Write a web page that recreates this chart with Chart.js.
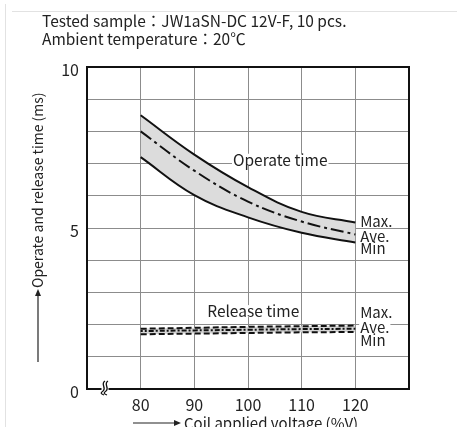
<!DOCTYPE html>
<html>
<head>
<meta charset="utf-8">
<script src="https://cdn.jsdelivr.net/npm/chart.js@4/dist/chart.umd.min.js"></script>
<style>
  body { margin: 0; background: #fff; }
  canvas { display: block; }
</style>
</head>
<body>
<canvas id="chart" width="457" height="427"></canvas>
<script>
// Coil voltage (%V) vs operate / release time (ms)
const voltages = [80, 90, 100, 110, 120];
const operateMax = [8.5, 7.28, 6.27, 5.5, 5.17];
const operateAve = [8.0, 6.78, 5.82, 5.2, 4.8];
const operateMin = [7.2, 6.02, 5.33, 4.85, 4.55];
const releaseMax = [1.87, 1.9, 1.93, 1.95, 1.97];
const releaseAve = [1.8, 1.82, 1.84, 1.86, 1.87];
const releaseMin = [1.7, 1.72, 1.74, 1.76, 1.77];
const xTicks = [80, 90, 100, 110, 120];
const yTicks = [0, 5, 10];

const headerLines = ['Tested sample\uFF1AJW1aSN-DC 12V-F, 10 pcs.', 'Ambient temperature\uFF1A20\u2103'];
const FONT = "'Noto Sans CJK JP', 'Noto Sans', sans-serif";
const INK = '#222';

Chart.defaults.font.family = FONT;
Chart.defaults.color = INK;

function pts(values) {
    return voltages.map((v, i) => ({ x: v, y: values[i] }));
}

// Text labels placed in data units
const notes = [
    { text: 'Operate time', x: 97.2, y: 7.12, size: 15.5 },
    { text: 'Release time', x: 92.4, y: 2.42, size: 15.5 },
    { text: 'Max.', x: 120.9, y: 5.22, size: 15 },
    { text: 'Ave.', x: 120.9, y: 4.74, size: 15 },
    { text: 'Min', x: 120.9, y: 4.36, size: 15 },
    { text: 'Max.', x: 120.9, y: 2.39, size: 15 },
    { text: 'Ave.', x: 120.9, y: 1.93, size: 15 },
    { text: 'Min', x: 120.9, y: 1.52, size: 15 }
];

const decorPlugin = {
    id: 'decor',
    beforeDraw(chart) {
        const ctx = chart.ctx;
        ctx.save();
        ctx.fillStyle = '#fff';
        ctx.fillRect(0, 0, chart.width, chart.height);
        // page frame lines
        ctx.strokeStyle = '#e2e2e2';
        ctx.lineWidth = 1;
        ctx.beginPath();
        ctx.moveTo(12, 11.5); ctx.lineTo(chart.width, 11.5);
        ctx.moveTo(5.5, 4); ctx.lineTo(5.5, chart.height);
        ctx.stroke();
        // header
        ctx.fillStyle = INK;
        ctx.font = '15.5px ' + FONT;
        ctx.textBaseline = 'alphabetic';
        ctx.fillText(headerLines[0], 42, 27);
        ctx.fillText(headerLines[1], 42, 45);
        ctx.restore();
    },
    beforeDatasetsDraw(chart) {
        const ctx = chart.ctx;
        const xs = chart.scales.x, ys = chart.scales.y;
        ctx.save();
        ctx.textBaseline = 'middle';
        notes.forEach(n => {
            ctx.font = n.size + 'px ' + FONT;
            const px = xs.getPixelForValue(n.x);
            const py = ys.getPixelForValue(n.y);
            const w = ctx.measureText(n.text).width;
            ctx.fillStyle = '#fff';
            ctx.fillRect(px - 1, py - 6, w + 2, 12);
            ctx.fillStyle = INK;
            ctx.fillText(n.text, px, py);
        });
        ctx.restore();
    },
    afterDraw(chart) {
        const ctx = chart.ctx;
        const a = chart.chartArea;
        ctx.save();
        // plot frame
        ctx.strokeStyle = '#111';
        ctx.lineWidth = 2;
        ctx.strokeRect(a.left, a.top, a.right - a.left, a.bottom - a.top);

        // axis break on x axis
        const bx = 104.5, by = a.bottom;
        ctx.fillStyle = '#fff';
        ctx.fillRect(bx - 3, by - 3, 7, 6);
        ctx.lineWidth = 1.3;
        ctx.strokeStyle = '#111';
        [-1.5, 1.5].forEach(off => {
            ctx.beginPath();
            ctx.moveTo(bx + off + 2, by - 8);
            ctx.bezierCurveTo(bx + off - 3, by - 5, bx + off + 4, by - 1, bx + off, by + 2);
            ctx.bezierCurveTo(bx + off - 3, by + 4, bx + off - 2, by + 5, bx + off + 1, by + 6);
            ctx.stroke();
        });

        ctx.fillStyle = INK;
        ctx.strokeStyle = INK;
        ctx.lineWidth = 1.2;
        // y title with upward arrow
        ctx.save();
        ctx.translate(38, 288);
        ctx.rotate(-Math.PI / 2);
        ctx.font = '14px ' + FONT;
        ctx.textBaseline = 'middle';
        ctx.textAlign = 'left';
        ctx.fillText('Operate and release time (ms)', 0, 0);
        ctx.beginPath();
        ctx.moveTo(-74, 0); ctx.lineTo(-6, 0); ctx.stroke();
        ctx.beginPath();
        ctx.moveTo(-1, 0); ctx.lineTo(-8, -3); ctx.lineTo(-8, 3); ctx.closePath(); ctx.fill();
        ctx.restore();

        // x title with rightward arrow
        ctx.font = '15px ' + FONT;
        ctx.textBaseline = 'middle';
        ctx.beginPath();
        ctx.moveTo(133, 423); ctx.lineTo(175, 423); ctx.stroke();
        ctx.beginPath();
        ctx.moveTo(181, 423); ctx.lineTo(174, 420); ctx.lineTo(174, 426); ctx.closePath(); ctx.fill();
        ctx.fillText('Coil applied voltage (%V)', 184, 423);
        ctx.restore();
    }
};

const lineBase = { pointRadius: 0, tension: 0.4, borderColor: '#111' };

new Chart(document.getElementById('chart'), {
    type: 'line',
    data: {
        datasets: [
            { ...lineBase, label: 'Operate max', data: pts(operateMax), borderWidth: 2, fill: 2, backgroundColor: '#dcdcdc' },
            { ...lineBase, label: 'Operate ave', data: pts(operateAve), borderWidth: 2, borderDash: [13, 4, 3, 4], fill: false },
            { ...lineBase, label: 'Operate min', data: pts(operateMin), borderWidth: 2, fill: false },
            { ...lineBase, label: 'Release max', data: pts(releaseMax), borderWidth: 2, borderDash: [6, 3], fill: 5, backgroundColor: '#d4d4d4' },
            { ...lineBase, label: 'Release ave', data: pts(releaseAve), borderWidth: 2, borderDash: [5, 2, 2, 2], borderDashOffset: 3, fill: false },
            { ...lineBase, label: 'Release min', data: pts(releaseMin), borderWidth: 2, borderDash: [6, 3], fill: false }
        ]
    },
    options: {
        responsive: false,
        animation: false,
        layout: { padding: { top: 67, right: 48, left: 0, bottom: 0 } },
        plugins: {
            legend: { display: false },
            tooltip: { enabled: false },
            filler: { propagate: false, drawTime: 'beforeDatasetsDraw' }
        },
        scales: {
            x: {
                type: 'linear',
                min: 70,
                max: 130,
                afterFit(scale) { scale.height = 38; },
                grid: { color: '#8c8c8c', lineWidth: 1, drawTicks: false },
                border: { display: false },
                ticks: {
                    stepSize: 10,
                    padding: 6,
                    maxRotation: 0,
                    font: { size: 16 },
                    callback: v => xTicks.includes(v) ? v : ''
                }
            },
            y: {
                min: 0,
                max: 10,
                afterFit(scale) { scale.width = 87; },
                grid: { color: '#8c8c8c', lineWidth: 1, drawTicks: false },
                border: { display: false },
                ticks: {
                    stepSize: 1,
                    padding: 8,
                    labelOffset: 3,
                    font: { size: 16 },
                    callback: v => yTicks.includes(v) ? v : ''
                }
            }
        }
    },
    plugins: [decorPlugin]
});
</script>
</body>
</html>
